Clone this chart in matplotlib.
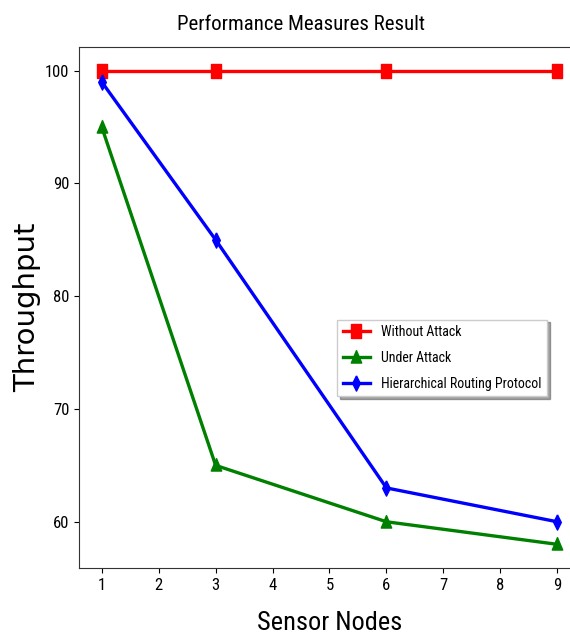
import matplotlib.pyplot as plt

nodes = [1, 3, 6, 9]
without_attack = [100, 100, 100, 100]
under_attack = [95, 65, 60, 58]
hierarchical = [99, 85, 63, 60]

plt.rcParams['font.family'] = ['Roboto Condensed', 'DejaVu Sans']

# markers squeezed sideways, like the picture
sq = [(-0.65, -1), (0.65, -1), (0.65, 1), (-0.65, 1), (-0.65, -1)]
tri = [(0, 1), (0.75, -0.8), (-0.75, -0.8), (0, 1)]
dia = [(0, 1), (0.5, 0), (0, -1), (-0.5, 0), (0, 1)]

fig = plt.figure(figsize=(5.7, 6.35), dpi=100)
ax = fig.add_axes([79 / 570, 1 - 568 / 635, 501 / 570, 521 / 635])
for s in ax.spines.values():
    s.set_color('#333333')
ax.spines['right'].set_visible(False)

ax.plot(nodes, without_attack, color='red', lw=2.4, marker=sq, ms=10, label='Without Attack')
ax.plot(nodes, under_attack, color='green', lw=2.4, marker=tri, ms=10, label='Under Attack')
ax.plot(nodes, hierarchical, color='blue', lw=2.4, marker=dia, ms=11, label='Hierarchical Routing Protocol')

ax.set_xticks(range(1, 10))
ax.set_yticks([60, 70, 80, 90, 100])
ax.tick_params(labelsize=12)
ax.set_title('Performance Measures Result', fontsize=15, x=0.443, pad=12)
ax.set_xlabel('Sensor Nodes', fontsize=19, labelpad=13)
ax.set_ylabel('Throughput', fontsize=21, family='DejaVu Sans', labelpad=3)
ax.legend(loc='center', bbox_to_anchor=(0.725, 0.403), fontsize=10, labelspacing=0.85,
          shadow=True, fancybox=False)

fig.savefig('out.png', dpi=100)
